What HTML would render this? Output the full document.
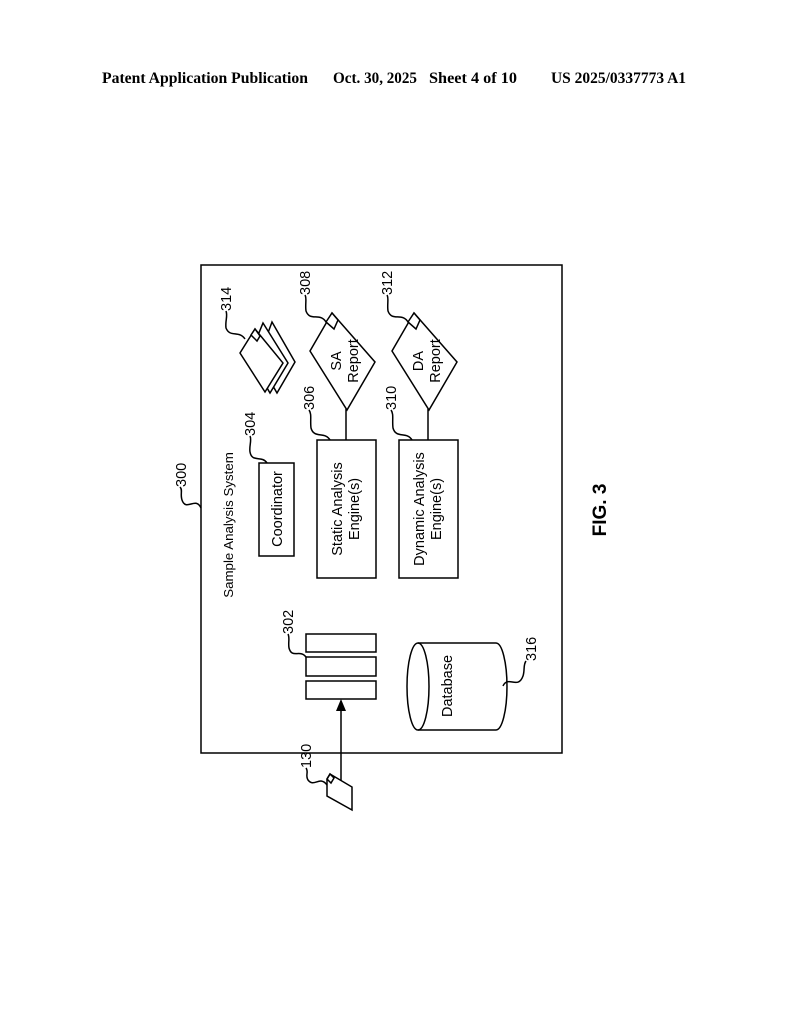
<!DOCTYPE html>
<html><head><meta charset="utf-8"><style>
html,body{margin:0;padding:0;background:#fff;}
svg{display:block;}
text{font-family:"Liberation Sans",Arial,sans-serif;fill:#000;}
</style></head><body>
<svg width="794" height="1024" viewBox="0 0 794 1024" xmlns="http://www.w3.org/2000/svg">
<g font-weight="bold" font-size="15.5">
<text x="102" y="83" textLength="206" lengthAdjust="spacingAndGlyphs" style="font-family:'Liberation Serif',serif">Patent Application Publication</text>
<text x="333" y="83" textLength="84" lengthAdjust="spacingAndGlyphs" style="font-family:'Liberation Serif',serif">Oct. 30, 2025</text>
<text x="429" y="83" textLength="88" lengthAdjust="spacingAndGlyphs" style="font-family:'Liberation Serif',serif">Sheet 4 of 10</text>
<text x="551" y="83" textLength="135" lengthAdjust="spacingAndGlyphs" style="font-family:'Liberation Serif',serif">US 2025/0337773 A1</text>
</g>
<g fill="none" stroke="#000" stroke-width="1.5">
<rect x="201" y="265" width="361" height="488" fill="#fff"/>
<rect x="259" y="463" width="35" height="93"/>
<rect x="317" y="440" width="59" height="138"/>
<rect x="399" y="440" width="59" height="138"/>
<line x1="346" y1="440" x2="346" y2="409"/>
<line x1="428" y1="440" x2="428" y2="409"/>
<path d="M332,313 L375,362 L347,410 L310,351 Z" fill="#fff"/>
<path d="M326,322 L332,313 L338,320 L334,329 Z" fill="#fff"/>
<path d="M414,313 L457,362 L429,410 L392,351 Z" fill="#fff"/>
<path d="M408,322 L414,313 L420,320 L416,329 Z" fill="#fff"/>
<path d="M272,322 L295,362 L277,393 L258,360 Z" fill="#fff"/>
<path d="M263,323 L288,363 L270,393 L249,357 Z" fill="#fff"/>
<path d="M255,329 L283,363 L265,392 L240,353 Z" fill="#fff"/>
<path d="M251,335 L255,329 L260,336 L257,341 Z" fill="#fff"/>
<rect x="306" y="634" width="70" height="18"/>
<rect x="306" y="657" width="70" height="19"/>
<rect x="306" y="681" width="70" height="18"/>
<line x1="341" y1="786" x2="341" y2="708"/>
<path d="M418,643 L496,643 A11,43.5 0 0 1 496,730 L418,730"/>
<ellipse cx="418" cy="686.5" rx="11" ry="43.5"/>
<path d="M330,774 L352,787 L352,810 L327,796 L327,779 Z" fill="#fff"/>
<path d="M327,779 L330,774 L334,778 L331,783 Z"/>
<path d="M201,508 C196,496 186,512 182,500 C180,494 183,490 180,487"/>
<path d="M267,463 C262,455 252,463 250,452 C249,446 252,440 250,436"/>
<path d="M330,440 C325,431 314,439 311,428 C310,420 312,414 309,410"/>
<path d="M412,440 C407,431 396,439 393,428 C392,420 394,414 391,410"/>
<path d="M326,322 C320,312 310,322 306,311 C305,304 307,298 305,295"/>
<path d="M408,322 C402,312 392,322 388,311 C387,304 389,298 387,295"/>
<path d="M245,339 C239,330 230,338 226,328 C225,321 228,316 226,311"/>
<path d="M306,657 C300,649 292,659 289,648 C288,642 290,638 288,634"/>
<path d="M503,686 C508,675 518,690 523,676 C525,670 523,665 526,661"/>
<path d="M327,785 C320,775 314,788 308,780 C305,775 309,772 306,768"/>
</g>
<path d="M341,699 L336,711 L346,711 Z" fill="#000"/>
<g font-size="14.5">
<text transform="translate(282,509) rotate(-90)" text-anchor="middle">Coordinator</text>
<text transform="translate(342,509) rotate(-90)" text-anchor="middle">Static Analysis</text>
<text transform="translate(359,509) rotate(-90)" text-anchor="middle">Engine(s)</text>
<text transform="translate(424,509) rotate(-90)" text-anchor="middle">Dynamic Analysis</text>
<text transform="translate(441,509) rotate(-90)" text-anchor="middle">Engine(s)</text>
<text transform="translate(341,361) rotate(-90)" text-anchor="middle">SA</text>
<text transform="translate(358,361) rotate(-90)" text-anchor="middle">Report</text>
<text transform="translate(423,361) rotate(-90)" text-anchor="middle">DA</text>
<text transform="translate(440,361) rotate(-90)" text-anchor="middle">Report</text>
<text transform="translate(452,686) rotate(-90)" text-anchor="middle">Database</text>
<text transform="translate(233,525) rotate(-90)" text-anchor="middle" font-size="13.3">Sample Analysis System</text>
<text transform="translate(186,487) rotate(-90)">300</text>
<text transform="translate(255,436) rotate(-90)">304</text>
<text transform="translate(314,410) rotate(-90)">306</text>
<text transform="translate(396,410) rotate(-90)">310</text>
<text transform="translate(310,295) rotate(-90)">308</text>
<text transform="translate(392,295) rotate(-90)">312</text>
<text transform="translate(231,311) rotate(-90)">314</text>
<text transform="translate(293,634) rotate(-90)">302</text>
<text transform="translate(536,661) rotate(-90)">316</text>
<text transform="translate(311,768) rotate(-90)">130</text>
</g>
<text transform="translate(606,510) rotate(-90)" text-anchor="middle" font-size="19" font-weight="bold">FIG. 3</text>
</svg>
</body></html>
